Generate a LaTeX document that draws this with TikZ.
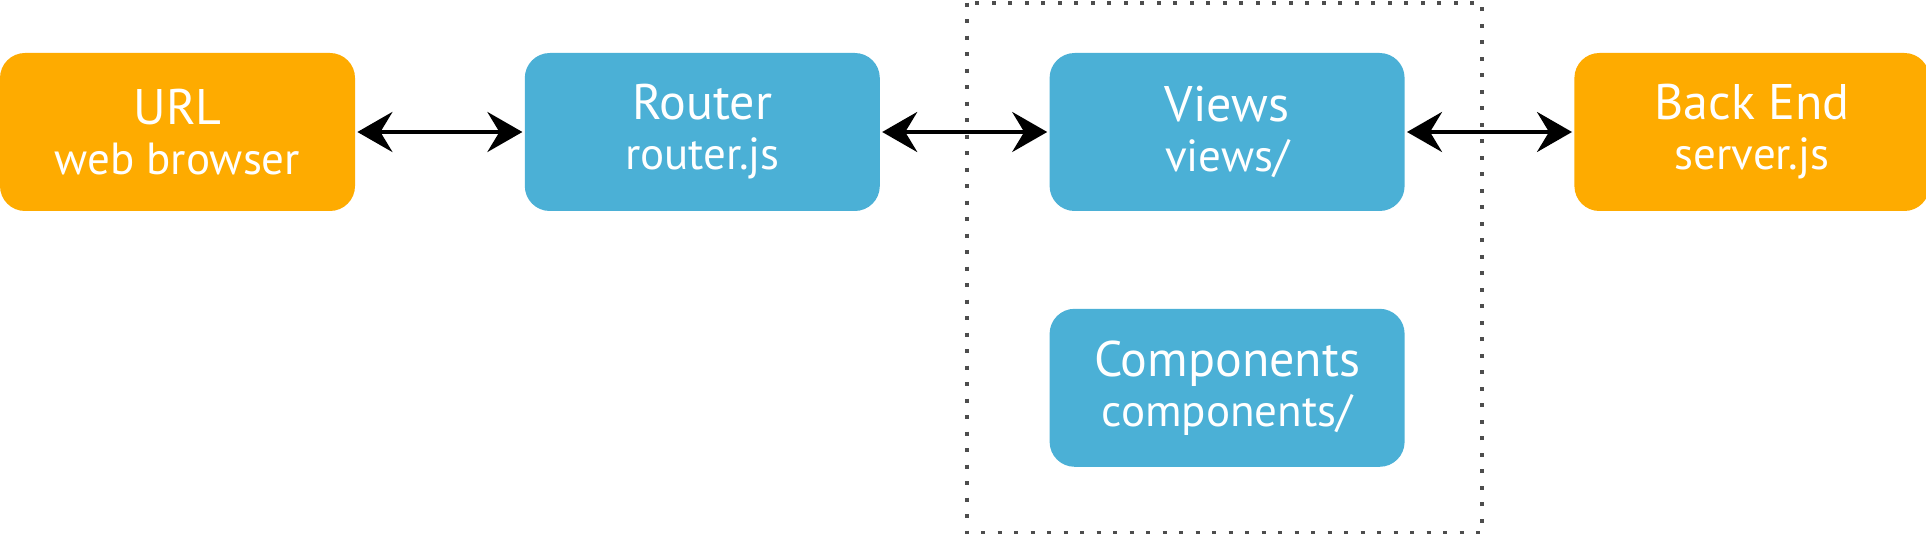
\documentclass[tikz,border=0pt]{standalone}
\usepackage{fontspec}
\setmainfont{PT Sans}
\usepackage{tikz}
\definecolor{lightorange}{RGB}{254,171,0}
\definecolor{lightblue}{RGB}{75,176,214}
\definecolor{dotgray}{RGB}{77,77,77}
\usetikzlibrary{arrows.meta, positioning, shapes}
\tikzstyle{block} = [rectangle, rounded corners=12.5pt, minimum height=79pt, minimum width=177.5pt, inner sep=0pt, text=white, align=center, font=\fontsize{22.5}{25}\selectfont]
\tikzstyle{client} = [block, fill=lightorange]
\tikzstyle{module} = [block, fill=lightblue]
\tikzstyle{arrow} = [<->, line width=2pt, black, shorten <=1pt, shorten >=1pt]
\tikzstyle{group} = [dotgray, line width=2pt, dash pattern=on 2pt off 6.25pt]
\newcommand{\blocktitle}[1]{{\fontsize{25}{25}\selectfont #1}}

\begin{document}
\begin{tikzpicture}[node distance=84.5pt, >={Stealth[length=17.5pt, width=20pt, inset=6pt]}]
    \useasboundingbox (0,0) rectangle (963pt,-267pt);
    % Place the blocks
    \node [client] (url) at (88.75pt,-66pt) {\blocktitle{URL}\\web browser};
    \node [module, right=of url] (router) {\blocktitle{Router}\\router.js};
    \node [module, right=of router] (views) {\blocktitle{Views}\\views/};
    \node [client, right=of views] (backend) {\blocktitle{Back End}\\server.js};
    \node [module, below=48.5pt of views] (components) {\blocktitle{Components}\\components/};

    % Group views and components
    \coordinate (groupnw) at ([xshift=-41pt, yshift=25pt]views.north west);
    \coordinate (groupse) at ([xshift=38.5pt, yshift=-33pt]components.south east);
    \draw [group] (groupnw) rectangle (groupse);

    % Connect the nodes
    \draw [arrow] (url) -- (router);
    \draw [arrow] (router) -- (views);
    \draw [arrow] (views) -- (backend);
\end{tikzpicture}
\end{document}
